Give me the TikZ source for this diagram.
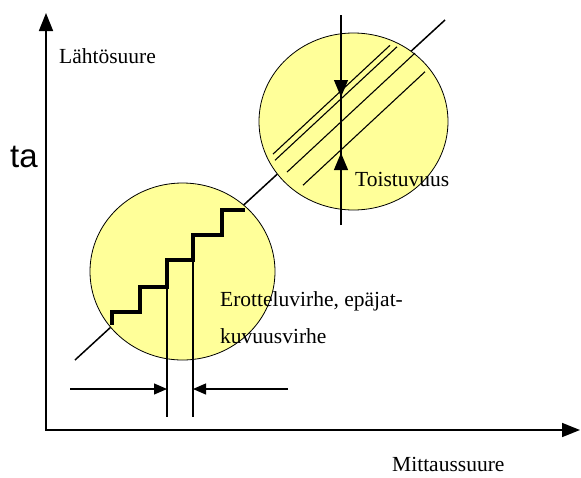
\documentclass[tikz,border=0pt]{standalone}
\usepackage{fontspec}
\setmainfont{Liberation Serif}
\newfontfamily\labelsans{Liberation Sans}
\usetikzlibrary{arrows.meta}
\definecolor{zoneyellow}{RGB}{255,255,153}
\tikzset{
  axisline/.style={line width=1.6pt,-{Triangle[length=18pt,width=14pt]}},
  zone/.style={fill=zoneyellow,draw=black,line width=0.8pt},
  hatchline/.style={line width=1.1pt},
  stairline/.style={line width=3.5pt,line join=miter},
  dimline/.style={line width=1.2pt},
  dimarrow/.style={dimline,-{Triangle[length=13pt,width=11pt]}},
  reparrow/.style={dimline,-{Triangle[length=17pt,width=14pt]}},
  lbl/.style={font=\fontsize{21.5}{37}\selectfont,inner sep=0pt,anchor=base west,align=left},
}
\begin{document}
\begin{tikzpicture}[x=1pt,y=-1pt]
\useasboundingbox (0,0) rectangle (581,477);

% axes
\coordinate (O) at (46,430);
\coordinate (ytop) at (46,13);
\coordinate (xend) at (580,430);
\draw[axisline] (O) -- (ytop);
\draw[axisline] ([xshift=-0.8pt]O) -- (xend);

% ideal characteristic
\coordinate (lineA) at (75,360);
\coordinate (lineB) at (445,20);
\draw[line width=1.5pt] (lineA) -- (lineB);

% zones
\draw[zone] (182.5,271.5) ellipse [x radius=92.5, y radius=88.5];
\draw[zone] (353.5,121.5) ellipse [x radius=94.5, y radius=88.5];

% quantisation steps
\coordinate (stepA) at (167,287);
\coordinate (stepB) at (193,260);
\draw[stairline] (112,325) |- (140,312) |- (stepA) |- (stepB) |- (222,235) |- (245,210);

% resolution
\coordinate (footA) at (167,417);
\coordinate (footB) at (193,417);
\coordinate (dimL) at (70,389);
\coordinate (dimR) at (288,389);
\draw[dimline] (stepA) -- (footA);
\draw[dimline] (stepB) -- (footB);
\draw[dimarrow] (dimL) -- (footA |- dimL);
\draw[dimarrow] (dimR) -- (footB |- dimR);

% repeatability band
\foreach \c/\xa/\xb in {408/273/390, 416/275/397, 439/287/415, 467/303/425}
  \draw[hatchline] (\xa,{\c-0.93*\xa}) -- (\xb,{\c-0.93*\xb});
\coordinate (repTop) at (341,15);
\coordinate (repBot) at (341,225);
\coordinate (repHi) at (341,97);
\coordinate (repLo) at (341,153);
\draw[dimline] (repTop) -- (repBot);
\draw[reparrow] (repTop) -- (repHi);
\draw[reparrow] (repBot) -- (repLo);

% labels
\node[lbl] (output) at (59,63) {Lähtösuure};
\node[lbl,font=\labelsans\fontsize{33}{36}\selectfont] (ta) at (10,167) {ta};
\node[lbl] (repeat) at (355,186) {Toistuvuus};
\node[lbl] (resol) at (220,343) {Erotteluvirhe, epäjat-\\kuvuusvirhe};
\node[lbl] (input) at (392,471) {Mittaussuure};

\end{tikzpicture}
\end{document}
